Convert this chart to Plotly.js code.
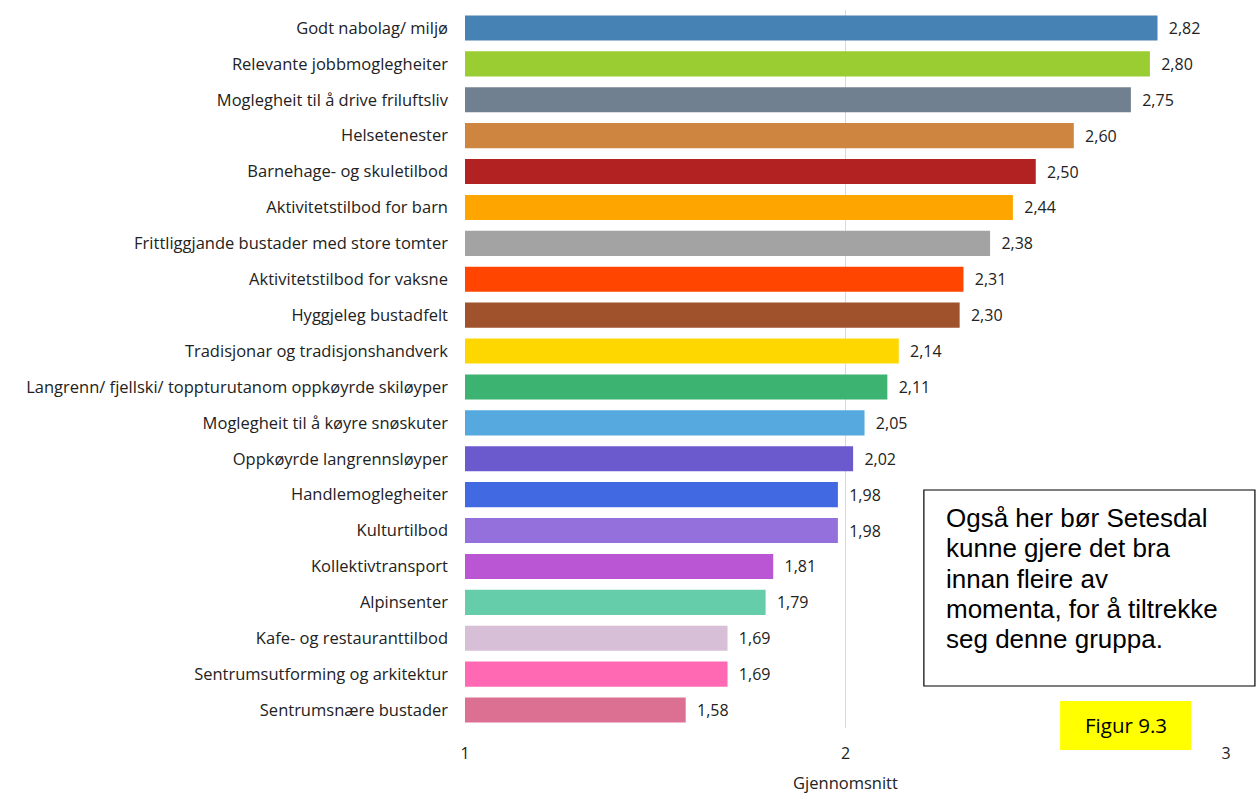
<!DOCTYPE html>
<html>
<head>
<meta charset="utf-8">
<script src="https://cdn.plot.ly/plotly-3.0.1.min.js"></script>
<style>html,body{margin:0;padding:0;background:#fff;}#chart{width:1256px;height:794px;}</style>
</head>
<body>
<div id="chart"></div>
<script>
const categories = [
  "Godt nabolag/ miljø",
  "Relevante jobbmoglegheiter",
  "Moglegheit til å drive friluftsliv",
  "Helsetenester",
  "Barnehage- og skuletilbod",
  "Aktivitetstilbod for barn",
  "Frittliggjande bustader med store tomter",
  "Aktivitetstilbod for vaksne",
  "Hyggjeleg bustadfelt",
  "Tradisjonar og tradisjonshandverk",
  "Langrenn/ fjellski/ toppturutanom oppkøyrde skiløyper",
  "Moglegheit til å køyre snøskuter",
  "Oppkøyrde langrennsløyper",
  "Handlemoglegheiter",
  "Kulturtilbod",
  "Kollektivtransport",
  "Alpinsenter",
  "Kafe- og restauranttilbod",
  "Sentrumsutforming og arkitektur",
  "Sentrumsnære bustader"
];
const values = [2.82, 2.80, 2.75, 2.60, 2.50, 2.44, 2.38, 2.31, 2.30, 2.14, 2.11, 2.05, 2.02, 1.98, 1.98, 1.81, 1.79, 1.69, 1.69, 1.58];
const colors = ["#4682B4","#9ACD32","#708090","#CD853F","#B22222","#FFA500","#A3A3A3","#FF4500","#A0522D","#FFD700","#3CB371","#55A9DE","#6A5ACD","#4169E1","#9370DB","#BA55D3","#66CDAA","#D8BFD8","#FF69B4","#DB7093"];
const xTicks = [1, 2, 3];
const xTitle = "Gjennomsnitt";
const noteLines = ["Også her bør Setesdal", "kunne gjere det bra", "innan fleire av", "momenta, for å tiltrekke", "seg denne gruppa."];
const figLabel = "Figur 9.3";

const labels = values.map(v => "  " + v.toFixed(2).replace(".", ","));
const FONT = "'Open Sans', Lato, sans-serif";

const trace = {
  type: "bar",
  orientation: "h",
  y: categories,
  x: values,
  base: 0,
  marker: {color: colors},
  text: labels,
  textposition: "outside",
  cliponaxis: false,
  textfont: {family: FONT, size: 16, color: "#222"},
  hoverinfo: "none"
};

const plotTop = 10, plotBottom = 728;
const toPaperY = py => (plotBottom - py) / (plotBottom - plotTop);
const noteAnnotations = noteLines.map((line, i) => ({
  xref: "paper", yref: "paper",
  x: (944 - 465) / 761, y: toPaperY(518 + i * 30.3),
  xanchor: "left", yanchor: "middle",
  text: line, showarrow: false, align: "left",
  font: {family: "'Liberation Sans', Arial, sans-serif", size: 26, color: "#000"}
}));

const layout = {
  width: 1256, height: 794,
  margin: {l: 465, r: 30, t: plotTop, b: 794 - plotBottom},
  paper_bgcolor: "#fff", plot_bgcolor: "#fff",
  showlegend: false,
  bargap: 0.3,
  font: {family: FONT, size: 16, color: "#222"},
  xaxis: {
    range: [1, 3],
    tickvals: xTicks,
    ticktext: xTicks.map(String),
    showgrid: true, gridcolor: "#d9d9d9", gridwidth: 1.5,
    zeroline: false, showline: false,
    ticks: "", ticklabelstandoff: 14,
    tickfont: {size: 16, color: "#222"},
    title: {text: xTitle, standoff: 14, font: {size: 16.5, color: "#222"}}
  },
  yaxis: {
    autorange: "reversed",
    type: "category",
    showgrid: false, zeroline: false, showline: false,
    ticks: "", ticklabelstandoff: 16,
    tickfont: {size: 16.5, color: "#222"}
  },
  shapes: [
    {type: "rect", xref: "paper", yref: "paper", x0: 0.603, x1: 1.038, y0: 0.0585, y1: 0.3315,
     line: {color: "#000", width: 1.2}, fillcolor: "#fff", layer: "above"},
    {type: "rect", xref: "paper", yref: "paper", x0: 0.782, x1: 0.954, y0: -0.0306, y1: 0.0376,
     line: {width: 0}, fillcolor: "#FFFF00", layer: "above"}
  ],
  annotations: noteAnnotations.concat([
    {xref: "paper", yref: "paper", x: 0.868, y: 0.0035, xanchor: "center", yanchor: "middle",
     text: figLabel, showarrow: false,
     font: {family: FONT, size: 20.5, color: "#000"}}
  ])
};

Plotly.newPlot("chart", [trace], layout, {displayModeBar: false, staticPlot: true});
</script>
</body>
</html>
